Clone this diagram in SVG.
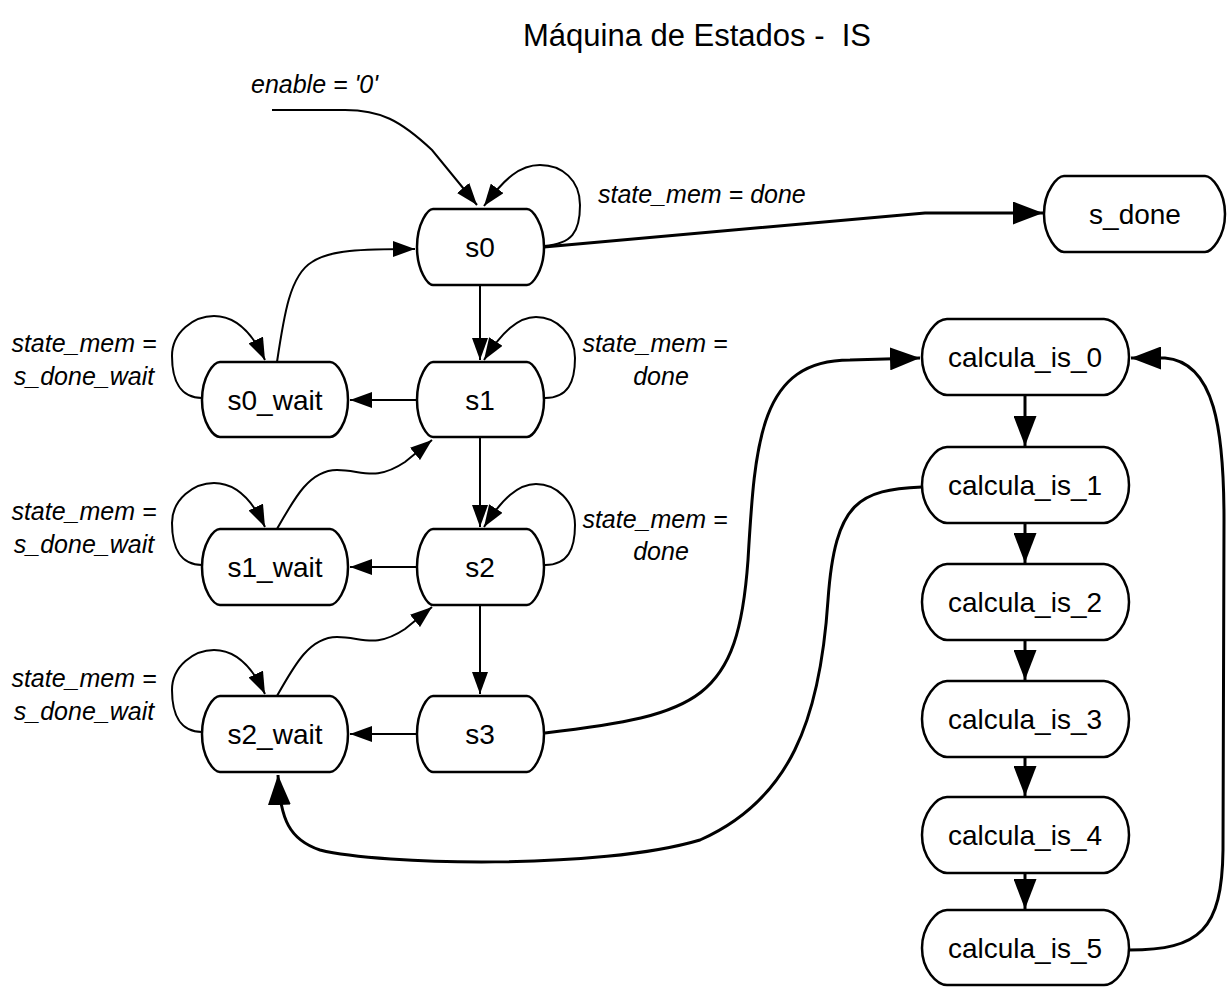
<svg xmlns="http://www.w3.org/2000/svg" width="1229" height="987" viewBox="0 0 1229 987">
  <style>
    .node { fill: #ffffff; stroke: #000000; stroke-width: 2.5; }
    .lbl { font-family: "Liberation Sans", Arial, sans-serif; font-size: 28px; fill: #000000; text-anchor: middle; }
    .cond { font-family: "Liberation Sans", Arial, sans-serif; font-size: 25px; font-style: italic; fill: #000000; }
    .mid { text-anchor: middle; }
    .title { font-family: "Liberation Sans", Arial, sans-serif; font-size: 31px; fill: #000000; text-anchor: middle; white-space: pre; }
    .e { fill: none; stroke: #000000; stroke-width: 2; marker-end: url(#ah); }
    .eb { fill: none; stroke: #000000; stroke-width: 3; marker-end: url(#ahb); }
  </style>
  <defs>
    <marker id="ah" markerUnits="userSpaceOnUse" markerWidth="22" markerHeight="16" refX="22" refY="8" orient="auto">
      <path d="M0,0 L22,8 L0,16 Z" fill="#000000"/>
    </marker>
    <marker id="ahb" markerUnits="userSpaceOnUse" markerWidth="30" markerHeight="23" refX="30" refY="11.5" orient="auto">
      <path d="M0,0 L30,11.5 L0,23 Z" fill="#000000"/>
    </marker>
  </defs>

  <rect width="1229" height="987" fill="#ffffff"/>

  <text class="title" x="697" y="46" xml:space="preserve">Máquina de Estados -  IS</text>

  <!-- transitions -->
  <g id="connectors">
    <path class="e" d="M 272 110 H 345 C 380 110 400 120 432 150 L 477 205"/>
    <path class="e" d="M 544 246 C 572 244 580 232 580 205 C 580 180 562 165 540 165 C 520 165 505 178 484 206"/>
    <path class="eb" d="M 544 247 L 925 213 H 1043"/>
    <path class="e" d="M 480 285 V 360"/>
    <path class="e" d="M 545 398 C 568 398 575 382 575 358 C 575 334 556 317 536 317 C 518 317 502 332 484 360"/>
    <path class="e" d="M 417 400 H 350"/>
    <path class="e" d="M 202 398 C 180 398 172 380 172 356 C 172 332 194 316 214 316 C 236 316 252 332 265 360"/>
    <path class="e" d="M 277 362 C 284 315 290 275 312 262 C 330 250 360 249 415 249"/>
    <path class="e" d="M 480 437 V 527"/>
    <path class="e" d="M 545 565 C 568 565 575 549 575 525 C 575 501 556 484 536 484 C 518 484 502 499 484 527"/>
    <path class="e" d="M 417 567 H 350"/>
    <path class="e" d="M 202 565 C 180 565 172 547 172 523 C 172 499 194 483 214 483 C 236 483 252 499 265 527"/>
    <path class="e" d="M 277 529 C 295 497 310 470 337 470 C 362 470 375 482 405 462 L 432 440"/>
    <path class="e" d="M 480 605 V 694"/>
    <path class="e" d="M 417 734 H 350"/>
    <path class="e" d="M 202 732 C 180 732 172 714 172 690 C 172 666 194 650 214 650 C 236 650 252 666 265 694"/>
    <path class="e" d="M 277 696 C 295 664 310 637 337 637 C 362 637 375 649 405 629 L 432 607"/>
    <path class="eb" d="M 545 733 C 700 715 738 700 748 560 C 755 440 760 360 850 360 L 920 358"/>
    <path class="eb" d="M 922 487 C 860 490 835 500 828 600 C 820 720 790 800 700 840 C 600 870 380 865 320 850 C 290 840 280 820 278 775"/>
    <path class="eb" d="M 1129 950 C 1200 950 1222 930 1223 850 L 1224 520 C 1224 430 1215 362 1165 358 L 1131 358"/>
    <path class="eb" d="M 1025 396 V 446"/>
    <path class="eb" d="M 1025 523 V 563"/>
    <path class="eb" d="M 1025 640 V 680"/>
    <path class="eb" d="M 1025 757 V 796"/>
    <path class="eb" d="M 1025 873 V 909"/>
  </g>

  <!-- transition conditions -->
  <g id="conditions">
    <text class="cond" x="251" y="93">enable = '0'</text>
    <text class="cond" x="598" y="203">state_mem = done</text>
    <text class="cond mid" x="655" y="352">state_mem =</text>
    <text class="cond mid" x="661" y="385">done</text>
    <text class="cond mid" x="655" y="528">state_mem =</text>
    <text class="cond mid" x="661" y="560">done</text>
    <text class="cond mid" x="84" y="352">state_mem =</text>
    <text class="cond mid" x="84" y="385">s_done_wait</text>
    <text class="cond mid" x="84" y="520">state_mem =</text>
    <text class="cond mid" x="84" y="553">s_done_wait</text>
    <text class="cond mid" x="84" y="687">state_mem =</text>
    <text class="cond mid" x="84" y="720">s_done_wait</text>
  </g>

  <!-- states -->
  <g id="s0">
    <path class="node" d="M 433 209 H 527 C 532 209 544 223 544 247 C 544 271 532 285 527 285 H 433 C 428 285 417 271 417 247 C 417 223 428 209 433 209 Z"/>
    <text class="lbl" x="480" y="257">s0</text>
  </g>
  <g id="s_done">
    <path class="node" d="M 1064 176 H 1205 C 1211 176 1225 190 1225 214 C 1225 238 1211 252 1205 252 H 1064 C 1058 252 1044 238 1044 214 C 1044 190 1058 176 1064 176 Z"/>
    <text class="lbl" x="1135" y="224">s_done</text>
  </g>
  <g id="s1">
    <path class="node" d="M 433 362 H 527 C 532 362 544 376 544 400 C 544 424 532 437 527 437 H 433 C 428 437 417 424 417 400 C 417 376 428 362 433 362 Z"/>
    <text class="lbl" x="480" y="410">s1</text>
  </g>
  <g id="s0_wait">
    <path class="node" d="M 220 362 H 330 C 336 362 348 376 348 400 C 348 424 336 437 330 437 H 220 C 214 437 202 424 202 400 C 202 376 214 362 220 362 Z"/>
    <text class="lbl" x="275" y="410">s0_wait</text>
  </g>
  <g id="s2">
    <path class="node" d="M 433 529 H 527 C 532 529 544 543 544 567 C 544 591 532 605 527 605 H 433 C 428 605 417 591 417 567 C 417 543 428 529 433 529 Z"/>
    <text class="lbl" x="480" y="577">s2</text>
  </g>
  <g id="s1_wait">
    <path class="node" d="M 220 529 H 330 C 336 529 348 543 348 567 C 348 591 336 605 330 605 H 220 C 214 605 202 591 202 567 C 202 543 214 529 220 529 Z"/>
    <text class="lbl" x="275" y="577">s1_wait</text>
  </g>
  <g id="s3">
    <path class="node" d="M 433 696 H 527 C 532 696 544 710 544 734 C 544 758 532 772 527 772 H 433 C 428 772 417 758 417 734 C 417 710 428 696 433 696 Z"/>
    <text class="lbl" x="480" y="744">s3</text>
  </g>
  <g id="s2_wait">
    <path class="node" d="M 220 696 H 330 C 336 696 348 710 348 734 C 348 758 336 772 330 772 H 220 C 214 772 202 758 202 734 C 202 710 214 696 220 696 Z"/>
    <text class="lbl" x="275" y="744">s2_wait</text>
  </g>
  <g id="calcula_is_0">
    <path class="node" d="M 947 319 H 1104 C 1114 319 1129 335 1129 357 C 1129 379 1114 395 1104 395 H 947 C 937 395 922 379 922 357 C 922 335 937 319 947 319 Z"/>
    <text class="lbl" x="1025" y="367">calcula_is_0</text>
  </g>
  <g id="calcula_is_1">
    <path class="node" d="M 947 447 H 1104 C 1114 447 1129 463 1129 485 C 1129 507 1114 523 1104 523 H 947 C 937 523 922 507 922 485 C 922 463 937 447 947 447 Z"/>
    <text class="lbl" x="1025" y="495">calcula_is_1</text>
  </g>
  <g id="calcula_is_2">
    <path class="node" d="M 947 564 H 1104 C 1114 564 1129 580 1129 602 C 1129 624 1114 640 1104 640 H 947 C 937 640 922 624 922 602 C 922 580 937 564 947 564 Z"/>
    <text class="lbl" x="1025" y="612">calcula_is_2</text>
  </g>
  <g id="calcula_is_3">
    <path class="node" d="M 947 681 H 1104 C 1114 681 1129 697 1129 719 C 1129 741 1114 757 1104 757 H 947 C 937 757 922 741 922 719 C 922 697 937 681 947 681 Z"/>
    <text class="lbl" x="1025" y="729">calcula_is_3</text>
  </g>
  <g id="calcula_is_4">
    <path class="node" d="M 947 797 H 1104 C 1114 797 1129 813 1129 835 C 1129 857 1114 873 1104 873 H 947 C 937 873 922 857 922 835 C 922 813 937 797 947 797 Z"/>
    <text class="lbl" x="1025" y="845">calcula_is_4</text>
  </g>
  <g id="calcula_is_5">
    <path class="node" d="M 947 910 H 1104 C 1114 910 1129 926 1129 948 C 1129 970 1114 985 1104 985 H 947 C 937 985 922 970 922 948 C 922 926 937 910 947 910 Z"/>
    <text class="lbl" x="1025" y="958">calcula_is_5</text>
  </g>
</svg>
